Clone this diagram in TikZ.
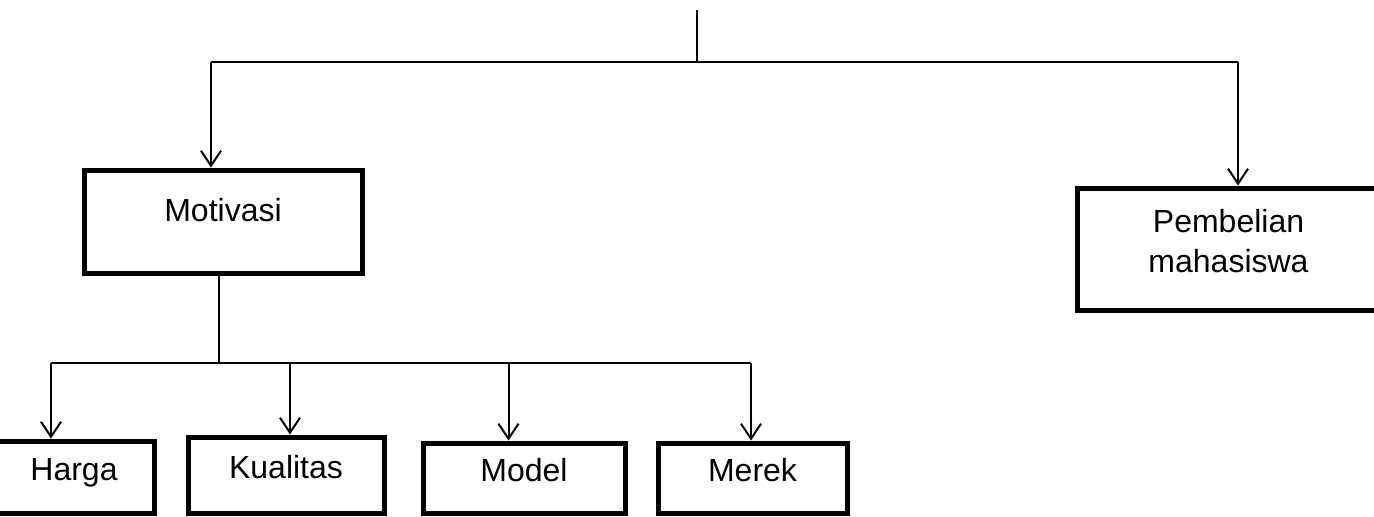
\documentclass[tikz,border=0pt]{standalone}
\usepackage{fontspec}
\setmainfont{Liberation Sans}
\usetikzlibrary{arrows.meta}

\begin{document}
\begin{tikzpicture}[x=0.5pt, y=-0.5pt,
	>={Straight Barb[length=7.5pt,width=10pt]},
	line width=1pt,
	box/.style={rectangle, draw=black, line width=2.5pt, align=center,
				font=\fontsize{16}{20}\selectfont, text depth=8pt}]
	\clip (0,0) rectangle (1374,516);
	% top level
	\coordinate (top) at (697,10);
	\coordinate (bus) at (697,62);
	\coordinate (busL) at (211,62);
	\coordinate (busR) at (1238,62);
	\node[box, minimum width=139pt, minimum height=51.5pt, text depth=12pt]
		(motivasi) at (223,221.5) {Motivasi};
	\node[box, minimum width=151.5pt, minimum height=61pt]
		(pembelian) at (1228.5,249) {Pembelian\\mahasiswa};
	\draw (top) -- (bus);
	\draw (busL) -- (busR);
	\draw[->] (busL) -- (busL |- motivasi.north);
	\draw[->] (busR) -- (busR |- pembelian.north);
	% second level
	\coordinate (drop) at (219,363);
	\coordinate (sub1) at (51,363);
	\coordinate (sub2) at (290,363);
	\coordinate (sub3) at (508.5,363);
	\coordinate (sub4) at (751,363);
	\node[box, minimum width=80pt, minimum height=36pt]
		(harga) at (74,477) {Harga};
	\node[box, minimum width=98pt, minimum height=38pt]
		(kualitas) at (286,475) {Kualitas};
	\node[box, minimum width=101pt, minimum height=35pt]
		(model) at (524,478) {Model};
	\node[box, minimum width=94.5pt, minimum height=35pt]
		(merek) at (752.5,478) {Merek};
	\draw (drop |- motivasi.south) -- (drop);
	\draw (sub1) -- (sub4);
	\draw[->] (sub1) -- (sub1 |- harga.north);
	\draw[->] (sub2) -- (sub2 |- kualitas.north);
	\draw[->] (sub3) -- (sub3 |- model.north);
	\draw[->] (sub4) -- (sub4 |- merek.north);
	
\end{tikzpicture}
\end{document}
